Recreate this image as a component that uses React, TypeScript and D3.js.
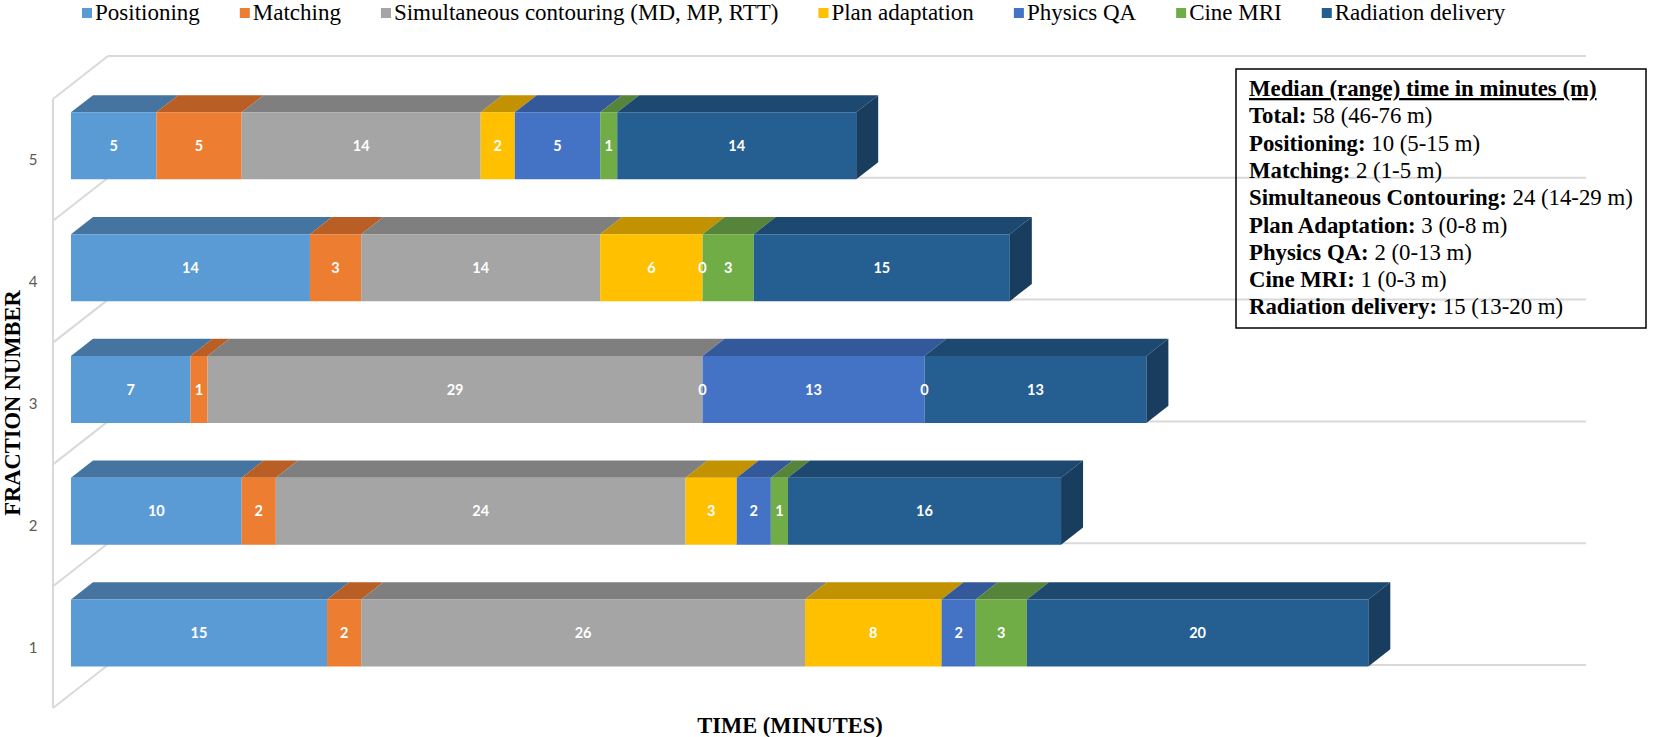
import React, { useEffect } from "react";
import * as d3 from "d3";

// ---------- data ----------
const fractions = [1, 2, 3, 4, 5];
const seriesNames = [
  "Positioning",
  "Matching",
  "Simultaneous contouring (MD, MP, RTT)",
  "Plan adaptation",
  "Physics QA",
  "Cine MRI",
  "Radiation delivery",
];
const positioning = [15, 10, 7, 14, 5];
const matching = [2, 2, 1, 3, 5];
const contouring = [26, 24, 29, 14, 14];
const planAdaptation = [8, 3, 0, 6, 2];
const physicsQA = [2, 2, 13, 0, 5];
const cineMRI = [3, 1, 0, 3, 1];
const radiationDelivery = [20, 16, 13, 15, 14];

const summaryTitle = "Median (range) time in minutes (m)";
const summaryLabels = [
  "Total:",
  "Positioning:",
  "Matching:",
  "Simultaneous Contouring:",
  "Plan Adaptation:",
  "Physics QA:",
  "Cine MRI:",
  "Radiation delivery:",
];
const summaryValues = [
  " 58 (46-76 m)",
  " 10 (5-15 m)",
  " 2 (1-5 m)",
  " 24 (14-29 m)",
  " 3 (0-8 m)",
  " 2 (0-13 m)",
  " 1 (0-3 m)",
  " 15 (13-20 m)",
];

// ---------- styles ----------
const frontColors = ["#5B9BD5", "#ED7D31", "#A5A5A5", "#FFC000", "#4472C4", "#70AD47", "#255E91"];
const topColors = ["#44749F", "#B95F25", "#7F7F7F", "#C29200", "#34599A", "#55843A", "#1D4870"];
const sideColors = ["#3B6691", "#A4541F", "#707070", "#A88000", "#2C4D85", "#4A7433", "#193D5E"];

const W = 1654;
const H = 737;
const SERIF = "'Liberation Serif', 'Times New Roman', serif";
const SANS = "Lato, 'Open Sans', sans-serif";

// oblique projection of the 3D frame
const WALL_DX = 55;
const WALL_DY = -43;
const BAR_Z0 = 0.327;
const BAR_Z1 = 0.727;
const BAR_H = 67;
const proj = (x: number, y: number, z: number): [number, number] => [x + WALL_DX * z, y + WALL_DY * z];

const xScale = d3.scaleLinear().domain([0, 80]).range([53, 53 + 80 * 17.07]);
const yBand = d3.scaleBand<number>().domain([5, 4, 3, 2, 1]).range([99, 708]).paddingInner(0).paddingOuter(0);
const WALL_RIGHT_FRONT = 1531;

function measure(text: string, font: string): number {
  if (typeof document === "undefined") return text.length * 10;
  const c = (measure as any)._c || ((measure as any)._c = document.createElement("canvas"));
  const ctx = c.getContext("2d");
  ctx.font = font;
  return ctx.measureText(text).width;
}

export default function App() {
  useEffect(() => {
    document.body.style.margin = "0";
  }, []);

  const rows = fractions.map((f, i) => ({
    fraction: f,
    [seriesNames[0]]: positioning[i],
    [seriesNames[1]]: matching[i],
    [seriesNames[2]]: contouring[i],
    [seriesNames[3]]: planAdaptation[i],
    [seriesNames[4]]: physicsQA[i],
    [seriesNames[5]]: cineMRI[i],
    [seriesNames[6]]: radiationDelivery[i],
  }));
  const stacked = d3.stack<any>().keys(seriesNames)(rows);

  const bw = yBand.bandwidth();
  const boundaries = d3.range(0, fractions.length + 1).map((k) => 99 + k * bw);

  const poly = (pts: [number, number][]) => pts.map((p) => p.join(",")).join(" ");

  // legend layout
  const legendFont = `23px ${SERIF}`;
  let lx = 82;
  const legendItems = seriesNames.map((name, i) => {
    const item = { name, x: lx, color: frontColors[i] };
    lx += 13 + measure(name, legendFont) + 40;
    return item;
  });

  const bars: React.ReactNode[] = [];
  fractions.forEach((f, fi) => {
    const yc = (yBand(f) as number) + bw / 2;
    const yTopFront = yc - BAR_H / 2;
    const yBotFront = yc + BAR_H / 2;
    let lastIdx = -1;
    stacked.forEach((s, si) => {
      if (s[fi][1] - s[fi][0] > 0) lastIdx = si;
    });
    stacked.forEach((s, si) => {
      const [v0, v1] = s[fi];
      const x0 = xScale(v0);
      const x1 = xScale(v1);
      const fTL = proj(x0, yTopFront, BAR_Z0);
      const fTR = proj(x1, yTopFront, BAR_Z0);
      const fBR = proj(x1, yBotFront, BAR_Z0);
      const fBL = proj(x0, yBotFront, BAR_Z0);
      const bTL = proj(x0, yTopFront, BAR_Z1);
      const bTR = proj(x1, yTopFront, BAR_Z1);
      const bBR = proj(x1, yBotFront, BAR_Z1);
      if (v1 > v0) {
        bars.push(<polygon key={`t${f}-${si}`} points={poly([fTL, fTR, bTR, bTL])} fill={topColors[si]} />);
        bars.push(<polygon key={`f${f}-${si}`} points={poly([fTL, fTR, fBR, fBL])} fill={frontColors[si]} />);
        if (si === lastIdx) {
          bars.push(<polygon key={`s${f}-${si}`} points={poly([fTR, bTR, bBR, fBR])} fill={sideColors[si]} />);
        }
      }
    });
    // labels
    stacked.forEach((s, si) => {
      const [v0, v1] = s[fi];
      const [lxp, lyp] = proj(xScale((v0 + v1) / 2), yc, BAR_Z0);
      bars.push(
        <text
          key={`l${f}-${si}`}
          x={lxp}
          y={lyp}
          dy="0.36em"
          textAnchor="middle"
          fill="#FFFFFF"
          fontFamily={SANS}
          fontWeight="bold"
          fontSize={14.5}
        >
          {v1 - v0}
        </text>
      );
    });
  });

  return (
    <svg width={W} height={H} style={{ display: "block" }} xmlns="http://www.w3.org/2000/svg">
      <rect x={0} y={0} width={W} height={H} fill="#FFFFFF" />

      {/* 3D frame: left wall & back wall gridlines */}
      <g stroke="#D9D9D9" strokeWidth={2} fill="none">
        <line x1={xScale(0)} y1={boundaries[0]} x2={xScale(0)} y2={boundaries[boundaries.length - 1]} />
        {boundaries.map((b, i) => {
          const [bx, by] = proj(xScale(0), b, 1);
          const [ex] = proj(WALL_RIGHT_FRONT, b, 1);
          return (
            <g key={`g${i}`}>
              <line x1={xScale(0)} y1={b} x2={bx} y2={by} />
              <line x1={bx} y1={by} x2={ex} y2={by} />
            </g>
          );
        })}
      </g>

      {bars}

      {/* category labels */}
      {fractions.map((f) => (
        <text
          key={`c${f}`}
          x={33}
          y={(yBand(f) as number) + bw / 2}
          dy="0.36em"
          textAnchor="middle"
          fill="#595959"
          fontFamily={SANS}
          fontSize={15}
        >
          {f}
        </text>
      ))}

      {/* axis titles */}
      <text
        transform={`translate(20,403) rotate(-90)`}
        textAnchor="middle"
        fontFamily={SERIF}
        fontWeight="bold"
        fontSize={22.5}
        fill="#000"
      >
        FRACTION NUMBER
      </text>
      <text x={790} y={733} textAnchor="middle" fontFamily={SERIF} fontWeight="bold" fontSize={22.5} fill="#000">
        TIME (MINUTES)
      </text>

      {/* legend */}
      {legendItems.map((it) => (
        <g key={it.name}>
          <rect x={it.x} y={8} width={10} height={10} fill={it.color} />
          <text x={it.x + 13} y={20} fontFamily={SERIF} fontSize={23} fill="#000">
            {it.name}
          </text>
        </g>
      ))}

      {/* summary box */}
      <rect x={1236} y={69} width={410} height={259} fill="none" stroke="#000" strokeWidth={1.5} />
      <text
        x={1249}
        y={96}
        fontFamily={SERIF}
        fontWeight="bold"
        fontSize={22.8}
        fill="#000"
        style={{ textDecoration: "underline" }}
      >
        {summaryTitle}
      </text>
      {summaryLabels.map((lab, i) => (
        <text key={lab} x={1249} y={96 + (i + 1) * 27.3} fontFamily={SERIF} fontSize={22.8} fill="#000">
          <tspan fontWeight="bold">{lab}</tspan>
          <tspan>{summaryValues[i]}</tspan>
        </text>
      ))}
    </svg>
  );
}
